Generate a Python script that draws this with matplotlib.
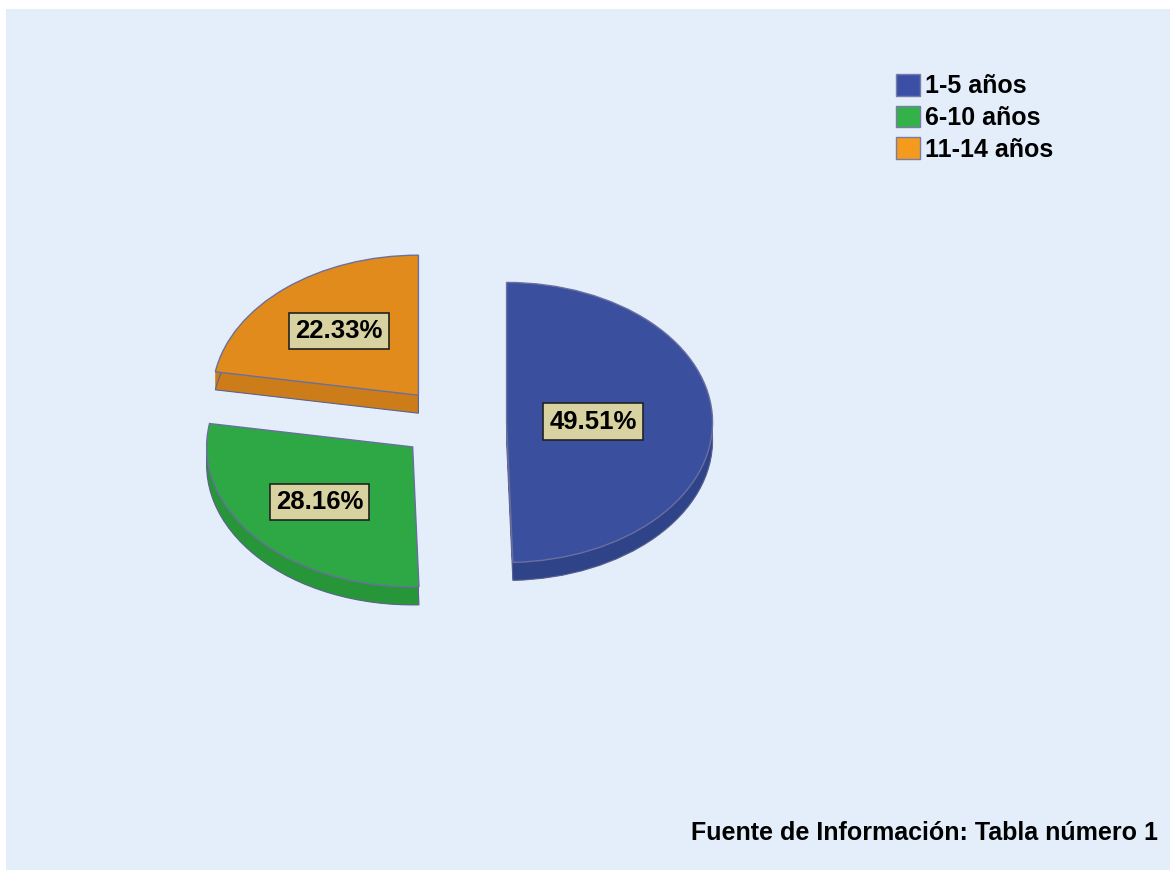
import numpy as np
import matplotlib.pyplot as plt
from matplotlib.patches import Patch, Rectangle

# data
labels = ['1-5 años', '6-10 años', '11-14 años']
pct = [49.51, 28.16, 22.33]
top_colors = ['#3A4F9D', '#2DA844', '#E28B1D']
side_colors = ['#2F4388', '#279639', '#CC7D1A']
legend_colors = ['#3C4FA6', '#33B24A', '#F49B1E']
explode = [0.26, 0.26, 0.26]
label_dist = [0.42, 0.6, 0.6]
fuente = 'Fuente de Información: Tabla número 1'

W, H = 1176, 875
cx, cy = 453, 423      # pie centre (px, from top)
rx, ry = 206, 140      # ellipse radii (px)
depth = 18 / ry        # thickness in data units

plt.rcParams['font.family'] = ['Liberation Sans', 'DejaVu Sans']

fig = plt.figure(figsize=(W / 100, H / 100), dpi=100, facecolor='white')
fig.patches.append(Rectangle((6 / W, 5 / H), 1164 / W, 861 / H, transform=fig.transFigure,
                             facecolor='#E3EEFA', edgecolor='none', zorder=-10))
ax = fig.add_axes([0, 0, 1, 1])
ax.set_facecolor('none')

# side of the 3d pie, stacked layers
n = 24
for k in range(n, 0, -1):
    off = -depth * k / n
    w, _ = ax.pie(pct, explode=explode, colors=side_colors, startangle=90, counterclock=False,
                  center=(0, off), wedgeprops=dict(linewidth=0))
w, _ = ax.pie(pct, explode=explode, colors=side_colors, startangle=90, counterclock=False,
              center=(0, -depth), wedgeprops=dict(linewidth=0.8, edgecolor='#5d6390'))

# top face
wedges, _, autotexts = ax.pie(pct, explode=explode, colors=top_colors, startangle=90,
                              counterclock=False, autopct='%1.2f%%',
                              wedgeprops=dict(linewidth=1.0, edgecolor='#6a6f9f'),
                              textprops=dict(fontsize=18.5, fontweight='bold', color='black'))

for wdg, txt, d in zip(wedges, autotexts, label_dist):
    mid = np.deg2rad((wdg.theta1 + wdg.theta2) / 2)
    x0, y0 = wdg.center
    txt.set_position((x0 + d * np.cos(mid), y0 + d * np.sin(mid)))
    txt.set_bbox(dict(boxstyle='square,pad=0.24', facecolor='#D8D2A0', edgecolor='#222222',
                      linewidth=1.2))

ax.set_aspect('auto')
ax.set_xlim(-cx / rx, (W - cx) / rx)
ax.set_ylim((cy - H) / ry, cy / ry)
ax.axis('off')

handles = [Patch(facecolor=c, edgecolor='#7b7ba6', linewidth=1) for c in legend_colors]
fig.legend(handles, labels, loc='upper left', bbox_to_anchor=(896 / W, 1 - 74 / H),
           frameon=False, prop=dict(size=18, weight='bold'), handlelength=0.95,
           handleheight=0.95, handletextpad=0.2, labelspacing=0.29, borderpad=0,
           borderaxespad=0)

fig.text(1158 / W, 1 - 833 / H, fuente, ha='right', va='center', fontsize=18,
         fontweight='bold', color='black')

fig.savefig('out.png', dpi=100, facecolor='white')
